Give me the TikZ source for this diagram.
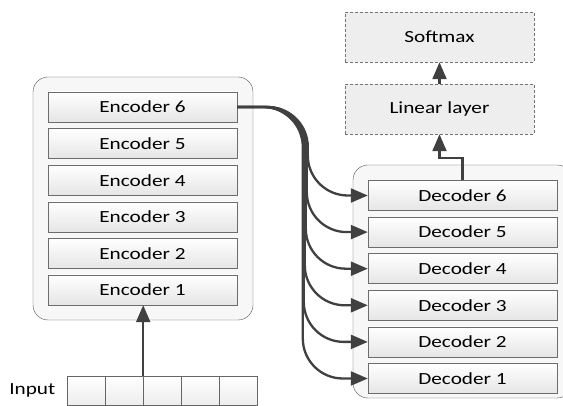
\documentclass[tikz,border=0pt]{standalone}
\usepackage{fontspec}
\setmainfont{Carlito}
\usepackage{graphicx}
\usetikzlibrary{arrows.meta}
\definecolor{linegray}{HTML}{404040}
\newcommand{\wtxt}[1]{\scalebox{1.25}[1]{#1}}

\begin{document}
\begin{tikzpicture}[x=1pt,y=-1pt,
  txt/.style={font=\fontsize{17}{19}\selectfont, text=black},
  layer/.style={txt, draw=gray!85!black, top color=white, bottom color=gray!20, minimum width=189pt, minimum height=30pt, inner sep=0pt},
  frame/.style={draw=linegray!90, fill=gray!6, rounded corners=15pt, inner sep=0pt},
  head/.style={txt, draw=gray!90!black, dashed, dash pattern=on 3pt off 2pt, fill=gray!13, minimum width=189pt, minimum height=50pt, inner sep=0pt},
  cell/.style={draw=gray!80!black, top color=white, bottom color=gray!14, minimum width=38pt, minimum height=29pt, inner sep=0pt},
  arr/.style={draw=linegray, line width=2.3pt, -{Triangle[length=17pt,width=14pt]}}]
  \useasboundingbox (0,0) rectangle (563,406);
  \clip (0,0) rectangle (563,406);
  \node[frame, minimum width=220pt, minimum height=243pt] (encframe) at (143,198.5) {};
  \node[frame, minimum width=219pt, minimum height=233pt] (decframe) at (462.5,281.5) {};
  \foreach \i in {1,...,6} {
    \node[layer] (enc\i) at (142.5,{290-36.6*(\i-1)}) {\wtxt{Encoder \i}};
    \node[layer] (dec\i) at (462.5,{378.5-36.6*(\i-1)}) {\wtxt{Decoder \i}};
  }
  \node[head] (lin) at (439.5,109) {\wtxt{Linear layer}};
  \node[head] (soft) at (439.5,37) {\wtxt{Softmax}};
  \foreach \i in {1,...,5}
    \node[cell] (in\i) at ({86+38*(\i-1)},390.5) {};
  \node[txt, anchor=east] (inlbl) at ([xshift=-8pt]in1.west) {\wtxt{Input}};
  \draw[arr] (in2.north east) -- (in2.north east |- enc1.south);
  \foreach \i in {1,...,6}
    \draw[arr, rounded corners=40pt] (enc6.east) -| ([xshift={(\i-66)*1pt}]dec\i.west) -- (dec\i.west);
  \draw[arr] (dec6.north) -- ++(0,-22) -| (lin.south);
  \draw[arr] (lin.north) -- (soft.south);
\end{tikzpicture}
\end{document}
